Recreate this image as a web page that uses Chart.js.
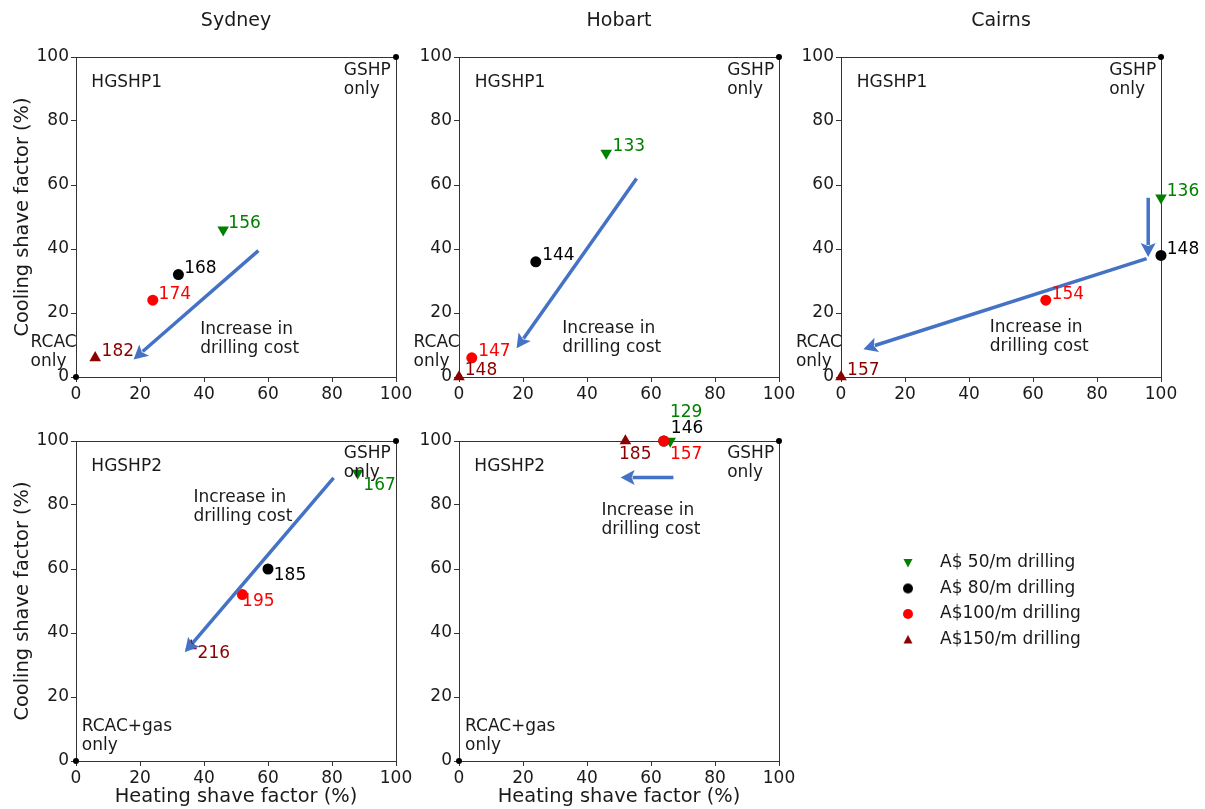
<!DOCTYPE html>
<html>
<head>
<meta charset="utf-8">
<script src="https://cdn.jsdelivr.net/npm/chart.js@4"></script>
<style>
  html, body { margin: 0; padding: 0; background: #fff; overflow: hidden; }
  #wrap { position: relative; width: 1205px; height: 809px; overflow: hidden; }
  canvas { position: absolute; }
</style>
</head>
<body>
<div id="wrap">
  <canvas id="sydney1" width="440" height="425" style="left:0px;top:0px"></canvas>
  <canvas id="hobart1" width="440" height="425" style="left:383px;top:0px"></canvas>
  <canvas id="cairns1" width="440" height="425" style="left:765px;top:0px"></canvas>
  <canvas id="sydney2" width="440" height="425" style="left:0px;top:384px"></canvas>
  <canvas id="hobart2" width="440" height="425" style="left:383px;top:384px"></canvas>
  <canvas id="legend" width="500" height="140" style="left:876px;top:546px"></canvas>
</div>
<script>
const drillLabels = ['A$ 50/m drilling', 'A$ 80/m drilling', 'A$100/m drilling', 'A$150/m drilling']
const axisTicks = [0, 20, 40, 60, 80, 100]

// heating / cooling shave factor (%) and cost, one entry per drilling price
const sydney1Heat = [46, 32, 24, 6]
const sydney1Cool = [46, 32, 24, 6]
const sydney1Cost = [156, 168, 174, 182]

const hobart1Heat = [46, 24, 4, 0]
const hobart1Cool = [70, 36, 6, 0]
const hobart1Cost = [133, 144, 147, 148]

const cairns1Heat = [100, 100, 64, 0]
const cairns1Cool = [56, 38, 24, 0]
const cairns1Cost = [136, 148, 154, 157]

const sydney2Heat = [88, 60, 52, 36]
const sydney2Cool = [90, 60, 52, 36]
const sydney2Cost = [167, 185, 195, 216]

const hobart2Heat = [66, 64, 64, 52]
const hobart2Cool = [100, 100, 100, 100]
const hobart2Cost = [129, 146, 157, 185]

// "only" end points in every panel
const cornerHeat = [0, 100]
const cornerCool = [0, 100]

const markerShape = ['triangle', 'circle', 'circle', 'triangle']
const markerTurn = [180, 0, 0, 0]
const markerSize = [6.7, 5.5, 5.5, 6.7]
const markerColor = ['#008000', '#000000', '#ff0000', '#8b0000']
const arrowBlue = '#4472c4'
const ink = '#1a1a1a'
const family = '"DejaVu Sans", sans-serif'

// text and arrow placement (data coordinates)
const panels = [
    {
        id: 'sydney1', title: 'Sydney', yTitle: true, xTitle: false,
        heat: sydney1Heat, cool: sydney1Cool, cost: sydney1Cost,
        costAt: [[47.6, 47.8], [33.8, 34.0], [25.8, 25.7], [8.0, 7.9]],
        notes: [[4.8, 92, 'HGSHP1'], [83.7, 95.7, 'GSHP\nonly'], [-14.2, 10.7, 'RCAC\nonly'], [38.8, 14.7, 'Increase in\ndrilling cost']],
        arrows: [[57, 39.5, 18, 5.5]]
    },
    {
        id: 'hobart1', title: 'Hobart', yTitle: false, xTitle: false,
        heat: hobart1Heat, cool: hobart1Cool, cost: hobart1Cost,
        costAt: [[48.0, 72.0], [26.0, 37.8], [6.0, 7.9], [1.8, 2.0]],
        notes: [[4.9, 92, 'HGSHP1'], [83.8, 95.7, 'GSHP\nonly'], [-14.2, 10.7, 'RCAC\nonly'], [32.3, 15.2, 'Increase in\ndrilling cost']],
        arrows: [[55.5, 62, 18, 9]]
    },
    {
        id: 'cairns1', title: 'Cairns', yTitle: false, xTitle: false,
        heat: cairns1Heat, cool: cairns1Cool, cost: cairns1Cost,
        costAt: [[101.8, 57.9], [101.8, 39.9], [65.8, 25.8], [1.9, 2.0]],
        notes: [[4.9, 92, 'HGSHP1'], [83.8, 95.7, 'GSHP\nonly'], [-14.1, 10.7, 'RCAC\nonly'], [46.5, 15.4, 'Increase in\ndrilling cost']],
        arrows: [[96, 56, 96, 37.5], [95.5, 37, 7, 8.7]]
    },
    {
        id: 'sydney2', title: '', yTitle: true, xTitle: true,
        heat: sydney2Heat, cool: sydney2Cool, cost: sydney2Cost,
        costAt: [[89.8, 86.0], [61.8, 57.9], [51.9, 49.8], [38.0, 33.7]],
        notes: [[4.8, 92.1, 'HGSHP2'], [83.7, 96, 'GSHP\nonly'], [1.8, 10.7, 'RCAC+gas\nonly'], [36.7, 82.4, 'Increase in\ndrilling cost']],
        arrows: [[80.5, 88.5, 34, 34]]
    },
    {
        id: 'hobart2', title: '', yTitle: false, xTitle: true,
        heat: hobart2Heat, cool: hobart2Cool, cost: hobart2Cost,
        costAt: [[65.9, 108.9], [66.2, 103.8], [65.9, 95.9], [50.0, 95.9]],
        notes: [[4.8, 92, 'HGSHP2'], [83.8, 96, 'GSHP\nonly'], [1.9, 10.7, 'RCAC+gas\nonly'], [44.5, 78.3, 'Increase in\ndrilling cost']],
        arrows: [[67, 88.6, 50.5, 88.6]]
    }
]

// box round the plot area
const framePlugin = {
    id: 'frame',
    beforeDatasetsDraw(chart) {
        const { ctx, chartArea: a } = chart
        ctx.save()
        ctx.strokeStyle = '#333'
        ctx.lineWidth = 1
        ctx.strokeRect(Math.round(a.left) + 0.5, Math.round(a.top) + 0.5, Math.round(a.width), Math.round(a.height))
        ctx.restore()
    }
}

// cost labels, annotations and arrows
function notesPlugin(p) {
    return {
        id: 'notes',
        afterDatasetsDraw(chart) {
            const { ctx, scales: { x, y } } = chart
            ctx.save()
            ctx.strokeStyle = arrowBlue
            ctx.fillStyle = arrowBlue
            ctx.lineWidth = 3.5
            p.arrows.forEach(([x0, y0, x1, y1]) => {
                const ax = x.getPixelForValue(x0), ay = y.getPixelForValue(y0)
                const bx = x.getPixelForValue(x1), by = y.getPixelForValue(y1)
                const len = Math.hypot(bx - ax, by - ay)
                const ux = (bx - ax) / len, uy = (by - ay) / len
                const head = 14, half = 7.5
                const hx = bx - ux * head, hy = by - uy * head
                ctx.beginPath()
                ctx.moveTo(ax, ay)
                ctx.lineTo(hx + ux * 2, hy + uy * 2)
                ctx.stroke()
                ctx.beginPath()
                ctx.moveTo(bx, by)
                ctx.lineTo(hx - uy * half, hy + ux * half)
                ctx.lineTo(hx + ux * 3, hy + uy * 3)
                ctx.lineTo(hx + uy * half, hy - ux * half)
                ctx.closePath()
                ctx.fill()
            })
            ctx.font = '17px ' + family
            ctx.textBaseline = 'middle'
            ctx.textAlign = 'left'
            p.costAt.forEach(([tx, ty], i) => {
                ctx.fillStyle = markerColor[i]
                ctx.fillText(String(p.cost[i]), x.getPixelForValue(tx), y.getPixelForValue(ty))
            })
            ctx.fillStyle = ink
            p.notes.forEach(([tx, ty, text]) => {
                text.split('\n').forEach((line, k) => {
                    ctx.fillText(line, x.getPixelForValue(tx), y.getPixelForValue(ty) + k * 19)
                })
            })
            ctx.restore()
        }
    }
}

function axis(text, showTitle, isY) {
    return {
        type: 'linear',
        min: 0,
        max: 100,
        afterBuildTicks: s => { s.ticks = axisTicks.map(v => ({ value: v })) },
        afterFit: s => { if (isY) s.width = 76; else s.height = 48 },
        grid: { drawOnChartArea: false, drawTicks: true, tickLength: 5, color: '#333', lineWidth: 1 },
        border: { display: false },
        ticks: { color: ink, font: { family, size: 17 }, padding: 2, autoSkip: false, maxRotation: 0 },
        title: {
            display: showTitle, text, color: ink, font: { family, size: 19.4 },
            padding: isY ? { top: 11, bottom: 0 } : { top: 0, bottom: 0 }
        }
    }
}

panels.forEach(p => {
    // later drilling prices are drawn on top, as in the original
    const datasets = drillLabels.map((label, i) => ({
        label,
        data: [{ x: p.heat[i], y: p.cool[i] }],
        order: -i,
        pointStyle: markerShape[i],
        rotation: markerTurn[i],
        pointRadius: markerSize[i],
        pointHoverRadius: markerSize[i],
        backgroundColor: markerColor[i],
        borderWidth: 0,
        clip: false
    }))
    datasets.push({
        label: 'ends',
        data: cornerHeat.map((h, i) => ({ x: h, y: cornerCool[i] })),
        order: 10,
        pointRadius: 3,
        backgroundColor: '#000',
        borderWidth: 0,
        clip: false
    })

    new Chart(document.getElementById(p.id), {
        type: 'scatter',
        data: { datasets },
        options: {
            responsive: false,
            animation: false,
            events: [],
            layout: { padding: { top: p.title ? 0 : 57, right: 44, left: 0, bottom: 0 } },
            scales: {
                x: axis('Heating shave factor (%)', p.xTitle, false),
                y: axis('Cooling shave factor (%)', p.yTitle, true)
            },
            plugins: {
                legend: { display: false },
                tooltip: { enabled: false },
                title: {
                    display: !!p.title, text: p.title, color: ink, fullSize: false,
                    font: { family, size: 19, weight: 'normal' },
                    padding: { top: 10, bottom: 24.2 }
                }
            }
        },
        plugins: [framePlugin, notesPlugin(p)]
    })
})

// legend icons as small images so the gap to the text can be set
function legendIcon(i) {
    const c = document.createElement('canvas')
    c.width = 14
    c.height = 14
    const g = c.getContext('2d')
    g.fillStyle = markerColor[i]
    g.beginPath()
    if (markerShape[i] === 'circle') {
        g.arc(7, 7, 5, 0, Math.PI * 2)
    } else if (markerTurn[i] === 180) {
        g.moveTo(2.5, 3); g.lineTo(11.5, 3); g.lineTo(7, 11.5)
    } else {
        g.moveTo(2.5, 11); g.lineTo(11.5, 11); g.lineTo(7, 2.5)
    }
    g.closePath()
    g.fill()
    return c
}

new Chart(document.getElementById('legend'), {
    type: 'scatter',
    data: {
        datasets: drillLabels.map((label, i) => ({
            label, data: [], pointStyle: legendIcon(i), backgroundColor: markerColor[i], borderWidth: 0
        }))
    },
    options: {
        responsive: false,
        animation: false,
        events: [],
        scales: { x: { display: false }, y: { display: false } },
        plugins: {
            tooltip: { enabled: false },
            legend: {
                position: 'left',
                align: 'start',
                onClick: null,
                labels: {
                    usePointStyle: true, pointStyleWidth: 47, boxHeight: 7, padding: 8.5,
                    color: ink, font: { family, size: 17 }
                }
            }
        }
    }
})
</script>
</body>
</html>
